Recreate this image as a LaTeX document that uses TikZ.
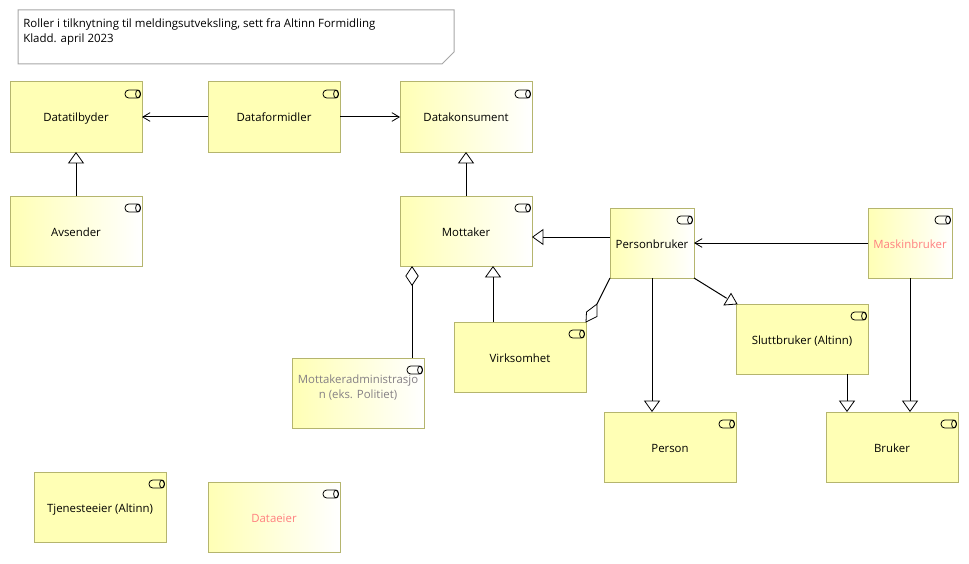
\documentclass[tikz,border=0pt]{standalone}
\usepackage{fontspec}
\setmainfont{Open Sans}
\usetikzlibrary{arrows.meta,calc}
\definecolor{boxline}{HTML}{B5B56E}
\definecolor{boxfill}{HTML}{FFFFB5}
\definecolor{noteline}{HTML}{A6A6A6}
\definecolor{palered}{HTML}{FF8080}
\definecolor{palegray}{HTML}{858085}
\tikzset{
  x=0.75pt,y=-0.75pt,
  rolebase/.style={draw=boxline,line width=0.75pt,inner sep=0pt,outer sep=0pt,minimum height=52.5pt,align=center,
    text height=9.5pt,text depth=2pt,font=\fontsize{8.55}{11.25}\selectfont},
  roleflat/.style={rolebase,fill=boxfill},
  rolegrad/.style={rolebase,left color=boxfill,right color=white},
  wide/.style={minimum width=99pt},
  narrow/.style={minimum width=63pt},
  conn/.style={draw=black,line width=0.75pt},
  headshape/.style={draw=black,line width=0.6pt,fill=white,line join=miter},
  gen/.style={conn,-{Triangle[open,length=8.5pt,width=12pt,fill=white,line width=0.6pt]}},
  ser/.style={conn,-{Straight Barb[length=5.5pt,width=6.5pt,line width=0.6pt]}},
  agg/.style={conn,-{Diamond[open,length=15pt,width=10pt,fill=white,line width=0.6pt]}},
  icon/.style={draw=black,line width=0.6pt},
  notebox/.style={draw=noteline,line width=0.75pt},
  notetext/.style={anchor=west,inner sep=0pt,text height=9.5pt,text depth=2pt,font=\fontsize{8.6}{11.25}\selectfont},
}
\newcommand{\roleicon}[1]{%
  \draw[icon,rounded corners=2.8pt] ($(#1.north east)+(-17,8)$) rectangle ($(#1.north east)+(-1.5,16)$);
  \draw[icon] ($(#1.north east)+(-4,12)$) ellipse [x radius=2.4,y radius=4];
}
\begin{document}
\begin{tikzpicture}
\useasboundingbox (0,0) rectangle (969,563);
% note
\node[inner sep=0pt,outer sep=0pt,minimum size=0pt] (notecorner) at (454,64) {};
\draw[notebox] (18,10) -- (454,10) -- ($(notecorner)+(0,-12)$) -- ($(notecorner)+(-12,0)$) -- (18,64) -- cycle;
\node[notetext] (notea) at (23,23) {Roller i tilknytning til meldingsutveksling, sett fra Altinn Formidling};
\node[notetext] (noteb) at (23,38) {Kladd. april 2023};
% roles
\node[roleflat,wide] (datatilbyder) at (76,117) {Datatilbyder};
\node[roleflat,wide] (dataformidler) at (274,117) {Dataformidler};
\node[rolegrad,wide] (datakonsument) at (466,117) {Datakonsument};
\node[rolegrad,wide] (avsender) at (76,231) {Avsender};
\node[rolegrad,wide] (mottaker) at (466,231) {Mottaker};
\node[rolegrad,narrow] (personbruker) at (652,243) {Personbruker};
\node[rolegrad,narrow,text=palered] (maskinbruker) at (910,243) {Maskinbruker};
\node[roleflat,wide] (virksomhet) at (520,357) {Virksomhet};
\node[roleflat,wide] (sluttbruker) at (802,339) {Sluttbruker (Altinn)};
\node[rolegrad,wide,text=palegray] (mottakeradm) at (358,393) {Mottakeradministrasjo\\n (eks. Politiet)};
\node[roleflat,wide] (person) at (670,447) {Person};
\node[roleflat,wide] (bruker) at (892,447) {Bruker};
\node[roleflat,wide] (tjenesteeier) at (100,507) {Tjenesteeier (Altinn)};
\node[rolegrad,wide,text=palered] (dataeier) at (274,517) {Dataeier};
\foreach \n in {datatilbyder,dataformidler,datakonsument,avsender,mottaker,personbruker,maskinbruker,virksomhet,sluttbruker,mottakeradm,person,bruker,tjenesteeier,dataeier}{\roleicon{\n}}
% connectors
\draw[ser] (dataformidler.west) -- (datatilbyder.east);
\draw[ser] (dataformidler.east) -- (datakonsument.west);
\draw[gen] (avsender.north) -- (datatilbyder.south);
\draw[gen] (mottaker.north) -- (datakonsument.south);
\draw[gen] ($(personbruker.west)+(0,-6)$) -- ($(mottaker.east)+(0,6)$);
\draw[ser] (maskinbruker.west) -- (personbruker.east);
\draw[gen] ($(virksomhet.north)+(-27,0)$) -- ($(mottaker.south)+(27,0)$);
\draw[agg] ($(mottakeradm.north)+(54,0)$) -- ($(mottaker.south)+(-54,0)$);
\draw[gen] (personbruker.south) -- ($(person.north)+(-18,0)$);
\draw[gen] (maskinbruker.south) -- ($(bruker.north)+(18,0)$);
\draw[gen] ($(sluttbruker.south)+(45,0)$) -- ($(bruker.north)+(-45,0)$);
% skewed connectors, their heads drawn as in the reference
\draw[conn] (personbruker.south west) -- ($(virksomhet.north east)+(11,-18)$);
\draw[headshape] (virksomhet.north east) -- ($(virksomhet.north east)+(0.5,-10)$) -- ($(virksomhet.north east)+(11,-18)$) -- ($(virksomhet.north east)+(11,-5.5)$) -- cycle;
\draw[conn] (personbruker.south east) -- ($(sluttbruker.north west)+(-9.3,-5.7)$);
\draw[headshape] ($(sluttbruker.north west)+(-5,-10.5)$) -- ($(sluttbruker.north west)+(-12,1)$) -- ($(sluttbruker.north west)+(1,0)$) -- cycle;
\end{tikzpicture}
\end{document}
